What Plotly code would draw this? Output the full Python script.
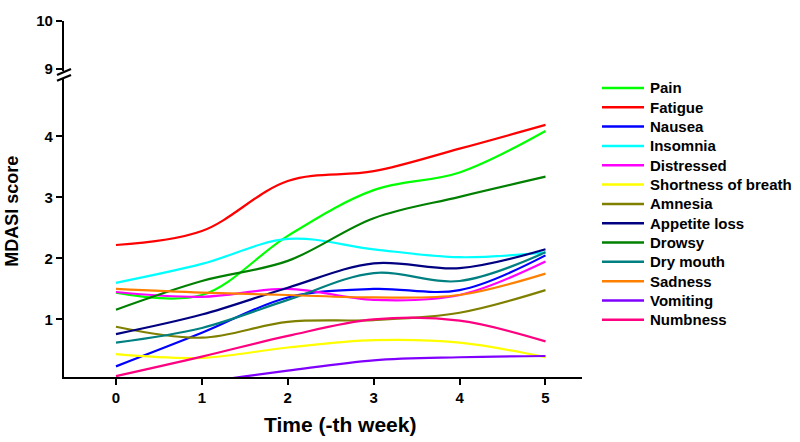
import plotly.graph_objects as go

weeks = [0, 1, 2, 3, 4, 5]
names = ["Pain", "Fatigue", "Nausea", "Insomnia", "Distressed", "Shortness of breath",
         "Amnesia", "Appetite loss", "Drowsy", "Dry mouth", "Sadness", "Vomiting", "Numbness"]
colors = ["#00FF00", "#FF0000", "#0000FF", "#00FFFF", "#FF00FF", "#FFFF00",
          "#808000", "#000080", "#008000", "#008080", "#FF8000", "#8000FF", "#FF0080"]

pain = [1.44, 1.40, 2.37, 3.12, 3.41, 4.09]
fatigue = [2.22, 2.45, 3.27, 3.43, 3.80, 4.19]
nausea = [0.23, 0.78, 1.36, 1.50, 1.48, 2.05]
insomnia = [1.60, 1.91, 2.32, 2.15, 2.02, 2.10]
distressed = [1.45, 1.37, 1.50, 1.32, 1.40, 1.95]
shortness = [0.43, 0.37, 0.54, 0.66, 0.62, 0.38]
amnesia = [0.88, 0.70, 0.96, 0.99, 1.11, 1.48]
appetite = [0.76, 1.08, 1.52, 1.92, 1.84, 2.15]
drowsy = [1.16, 1.63, 1.96, 2.66, 3.01, 3.34]
dry_mouth = [0.62, 0.86, 1.32, 1.76, 1.63, 2.10]
sadness = [1.50, 1.44, 1.40, 1.36, 1.40, 1.75]
vomiting = [-0.20, -0.03, 0.16, 0.33, 0.38, 0.40]
numbness = [0.07, 0.39, 0.73, 1.00, 0.98, 0.64]

series = [pain, fatigue, nausea, insomnia, distressed, shortness, amnesia,
          appetite, drowsy, dry_mouth, sadness, vomiting, numbness]

lower_ticks = [1, 2, 3, 4]
upper_ticks = [9, 10]

W, H = 800, 442
# screen positions of the plot area
SX0, SX1, SY0, SY1 = 64, 582, 14, 377
ML, MT = SX0, SY0
MR = W - SX1
MB = H - SY1
PW = SX1 - SX0
PH = SY1 - SY0


def px(X):
    return (X - SX0) / PW


def py(Y):
    return (SY1 - Y) / PH


fig = go.Figure()
for name, color, vals in zip(names, colors, series):
    fig.add_trace(go.Scatter(x=weeks, y=vals, mode="lines", name=name,
                             line=dict(color=color, width=2.2, shape="spline", smoothing=1.0),
                             showlegend=False))
# empty trace to activate the upper (broken) axis segment
fig.add_trace(go.Scatter(x=[], y=[], yaxis="y2", showlegend=False))

tickfont = dict(family="Liberation Sans, Arial", size=15, color="black", weight="bold")
axis_common = dict(showline=True, linecolor="black", linewidth=2.2, ticks="outside",
                   ticklen=6, tickwidth=2, tickcolor="black", showgrid=False,
                   zeroline=False, tickfont=tickfont, ticklabeloverflow="allow")

fig.update_layout(
    width=W, height=H,
    margin=dict(l=ML, r=MR, t=MT, b=MB),
    paper_bgcolor="white", plot_bgcolor="white",
    font=dict(family="Liberation Sans, Arial", color="black"),
    xaxis=dict(range=[-0.605, 5.425], tickvals=weeks, anchor="y", **axis_common),
    yaxis=dict(domain=[0, py(73)], range=[0.056, 4.944], tickvals=lower_ticks,
               anchor="x", **axis_common),
    yaxis2=dict(domain=[py(65), 1], range=[8.959, 10.001], tickvals=upper_ticks,
                anchor="x", **axis_common),
    showlegend=False,
)

# axis break marks
for y0 in (69, 75):
    fig.add_shape(type="line", xref="paper", yref="paper",
                  x0=px(57), y0=py(y0), x1=px(71), y1=py(y0 - 6),
                  line=dict(color="black", width=2.2))

# axis titles
fig.add_annotation(text="Time (-th week)", xref="paper", yref="paper",
                   x=px(340), y=py(425), xanchor="center", yanchor="middle",
                   showarrow=False,
                   font=dict(family="Liberation Sans, Arial", size=21, color="black", weight="bold"))
fig.add_annotation(text="MDASI score", xref="paper", yref="paper",
                   x=px(12.5), y=py(208), xanchor="center", yanchor="middle",
                   textangle=-90, showarrow=False, borderpad=0,
                   font=dict(family="Liberation Sans, Arial", size=18, color="black", weight="bold"))

# legend (manual)
for i, (name, color) in enumerate(zip(names, colors)):
    Y = 82.3 + 19.7 * i
    fig.add_shape(type="line", xref="paper", yref="paper",
                  x0=px(602), y0=py(Y), x1=px(644), y1=py(Y),
                  line=dict(color=color, width=2.5))
    fig.add_annotation(text=name, xref="paper", yref="paper",
                       x=px(648), y=py(Y), xanchor="left", yanchor="middle",
                       showarrow=False,
                       font=dict(family="Liberation Sans, Arial", size=15, color="black", weight="bold"))

fig.write_html("out.html", config={"displayModeBar": False},
               post_script="document.body.style.margin='0px';")
